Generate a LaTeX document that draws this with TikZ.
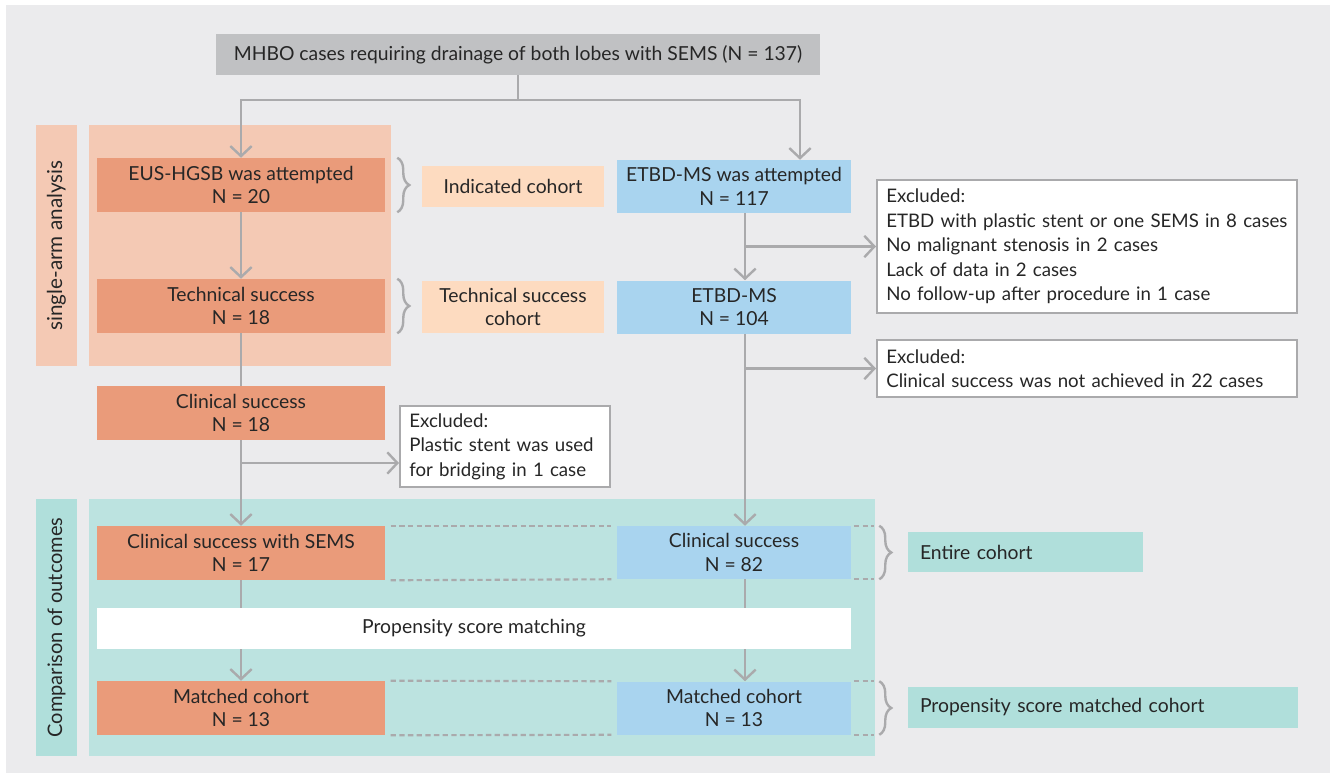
\documentclass[tikz,border=0pt]{standalone}
\usepackage{fontspec}
\setmainfont{Lato}
\usetikzlibrary{arrows.meta,decorations.pathreplacing,positioning}
\definecolor{bggray}{HTML}{EBEBED}
\definecolor{topgray}{HTML}{C0C1C3}
\definecolor{linegray}{HTML}{AAAAAC}
\definecolor{txtgray}{HTML}{262626}
\definecolor{eusred}{HTML}{EA9B7A}
\definecolor{euspanel}{HTML}{F4C9B4}
\definecolor{euslabel}{HTML}{FDDBC0}
\definecolor{msblue}{HTML}{A9D4EF}
\definecolor{cmppanel}{HTML}{BCE3E0}
\definecolor{cmplabel}{HTML}{B0DFDB}
\tikzset{
  >={Straight Barb[length=7.5pt,width=16pt,line width=1.8pt]}
}

\begin{document}
\begin{tikzpicture}[x=0.75pt,y=-0.75pt,
    font=\fontsize{14.5}{17.8}\selectfont,text=txtgray,
    box/.style={rectangle,inner sep=0pt,align=center},
    top/.style={box,fill=topgray,minimum width=453pt,minimum height=30.75pt},
    eus/.style={box,fill=eusred,minimum width=216pt,minimum height=40.5pt},
    ms/.style={box,fill=msblue,minimum width=175.5pt,minimum height=39.75pt},
    cohort/.style={box,fill=euslabel,minimum width=136.5pt},
    excl/.style={box,draw=linegray,line width=1.5pt,fill=white,align=left,inner xsep=7pt,font=\fontsize{14}{18.3}\selectfont},
    tag/.style={box,fill=cmplabel,align=left,inner xsep=9pt,minimum height=30.5pt},
    band/.style={box,rotate=90,minimum height=30.75pt},
    flow/.style={draw=linegray,line width=1.8pt,->},
    line/.style={draw=linegray,line width=1.8pt},
    match/.style={draw=linegray,line width=1.6pt,dash pattern=on 4pt off 2.5pt},
    bracket/.style={draw=linegray,line width=1.8pt,decorate,decoration={brace,amplitude=9pt}}]
    \useasboundingbox (0,0) rectangle (1335,778);
    \fill[bggray] (6,5) rectangle (1330,773);

    % panels
    \fill[euspanel] (36,125) rectangle (77,366);
    \fill[euspanel] (89,125) rectangle (391,366);
    \fill[cmppanel] (36,499) rectangle (77,756);
    \fill[cmppanel] (89,499) rectangle (875,756);
    \node (SA) at (56.5,245.5) [band,minimum width=180.75pt,fill=euspanel,font=\fontsize{15.5}{18}\selectfont] {single-arm analysis};
    \node (CO) at (56.5,627.5) [band,minimum width=192.75pt,fill=cmplabel,font=\fontsize{15}{18}\selectfont] {Comparison of outcomes};

    \node (MHBO) at (518,54.5) [top] {MHBO cases requiring drainage of both lobes with SEMS (N = 137)};

    \node (EUS1) at (241,185) [eus] {EUS-HGSB was attempted\\N = 20};
    \node (EUS2) at (241,306) [eus] {Technical success\\N = 18};
    \node (EUS3) at (241,413) [eus] {Clinical success\\N = 18};
    \node (EUS4) at (241,553) [eus] {Clinical success with SEMS\\N = 17};
    \node (EUS5) at (241,708) [eus] {Matched cohort\\N = 13};

    \node (MS1) at (734,186.5) [ms] {ETBD-MS was attempted\\N = 117};
    \node (MS2) at (734,307) [ms] {ETBD-MS\\N = 104};
    \node (MS3) at (734,552.5) [ms] {Clinical success\\N = 82};
    \node (MS4) at (734,708) [ms] {Matched cohort\\N = 13};

    \node (IND) at (513,186.5) [cohort,minimum height=30.75pt] {Indicated cohort};
    \node (TSC) at (513,307) [cohort,minimum height=39pt] {Technical success\\cohort};

    \node (EX1) at (1087,246.5) [excl,minimum width=315pt,minimum height=99.75pt,text width=301pt] {Excluded:\\ETBD with plastic stent or one SEMS in 8 cases\\No malignant stenosis in 2 cases\\Lack of data in 2 cases\\No follow-up after procedure in 1 case};
    \node (EX2) at (1087,368.5) [excl,minimum width=315pt,minimum height=42.75pt,text width=301pt] {Excluded:\\Clinical success was not achieved in 22 cases};
    \node (EX3) at (505,446.5) [excl,minimum width=157.5pt,minimum height=60.75pt,text width=143.5pt] {Excluded:\\Plastic stent was used\\for bridging in 1 case};

    \node (PSM) at (474,628.5) [box,fill=white,minimum width=565.5pt,minimum height=30.75pt] {Propensity score matching};
    \node (ENT) at (1025.5,552) [tag,minimum width=176.25pt,text width=158.25pt] {Entire cohort};
    \node (PSC) at (1103,707.5) [tag,minimum width=292.5pt,text width=274.5pt] {Propensity score matched cohort};

    \coordinate (split) at (518,100);
    \coordinate (rcol) at (745,0);
    \coordinate (lbranch) at (0,463);

    \draw[flow] (MHBO.south) -- (split) -| (EUS1.north);
    \draw[flow] (split) -| ([xshift=49.5pt]MS1.north);

    \draw[flow] (EUS1) -- (EUS2);
    \draw[line] (EUS2) -- (EUS3);
    \draw[flow] (EUS3) -- (EUS4);
    \draw[flow] (EUS3.south |- lbranch) -- (EX3.west |- lbranch);
    \draw[line] (EUS4) -- (EUS4.south |- PSM.north);
    \draw[flow] (EUS5.north |- PSM.south) -- (EUS5);

    \draw[flow] (rcol |- MS1.south) -- (rcol |- MS2.north);
    \draw[flow] (rcol |- EX1.west) -- (EX1.west);
    \draw[flow] (rcol |- MS2.south) -- (rcol |- MS3.north);
    \draw[flow] (rcol |- EX2.west) -- (EX2.west);
    \draw[line] (rcol |- MS3.south) -- (rcol |- PSM.north);
    \draw[flow] (rcol |- PSM.south) -- (rcol |- MS4.north);

    % matched pairs
    \draw[match] ([xshift=4pt]EUS4.north east) -- ([xshift=-4pt]MS3.north west);
    \draw[match] ([xshift=4pt]EUS4.south east) -- ([xshift=-4pt]MS3.south west);
    \draw[match] ([xshift=4pt]EUS5.north east) -- ([xshift=-4pt]MS4.north west);
    \draw[match] ([xshift=4pt]EUS5.south east) -- ([xshift=-4pt]MS4.south west);
    \draw[match] ([xshift=2pt]MS3.north east) -- ([xshift=17pt]MS3.north east);
    \draw[match] ([xshift=2pt]MS3.south east) -- ([xshift=17pt]MS3.south east);
    \draw[match] ([xshift=2pt]MS4.north east) -- ([xshift=17pt]MS4.north east);
    \draw[match] ([xshift=2pt]MS4.south east) -- ([xshift=17pt]MS4.south east);

    % braces
    \draw[bracket] ([xshift=9pt]EUS1.north east) -- ([xshift=9pt]EUS1.south east);
    \draw[bracket] ([xshift=9pt]EUS2.north east) -- ([xshift=9pt]EUS2.south east);
    \draw[bracket] ([xshift=21pt]MS3.north east) -- ([xshift=21pt]MS3.south east);
    \draw[bracket] ([xshift=21pt]MS4.north east) -- ([xshift=21pt]MS4.south east);
\end{tikzpicture}
\end{document}
